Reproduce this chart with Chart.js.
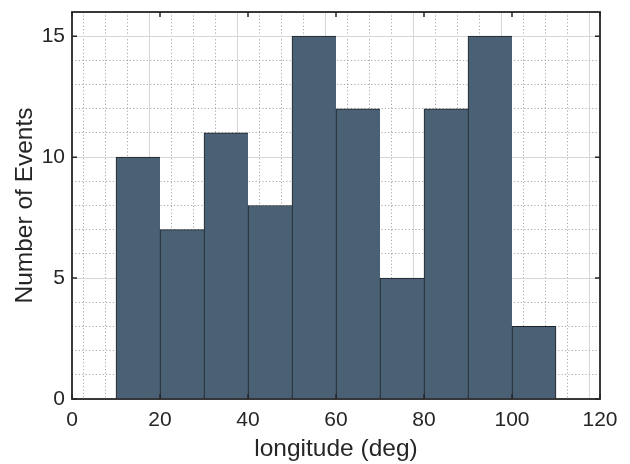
<!DOCTYPE html>
<html>
<head>
<meta charset="utf-8">
<script src="https://cdn.jsdelivr.net/npm/chart.js@4/dist/chart.umd.min.js"></script>
<style>
  html, body { margin: 0; padding: 0; background: #ffffff; }
  #wrap { width: 630px; height: 464px; position: relative; }
</style>
</head>
<body>
<div id="wrap"><canvas id="c" width="630" height="464"></canvas></div>
<script>
// Histogram of event longitudes, 10-degree bins
const binEdges = [10, 20, 30, 40, 50, 60, 70, 80, 90, 100, 110];
const binCounts = [10, 7, 11, 8, 15, 12, 5, 12, 15, 3];
const xTickLabels = [0, 20, 40, 60, 80, 100, 120];
const yTickLabels = [0, 5, 10, 15];

const xTitle = 'longitude (deg)';
const yTitle = 'Number of Events';

const barFill = 'rgb(74, 96, 116)';
const barEdge = 'rgb(30, 34, 38)';
const axisColor = 'rgb(38, 38, 38)';
const majorGrid = 'rgba(215, 215, 215, 1)';
const minorGrid = 'rgba(160, 160, 160, 0.9)';
const fontFamily = '"Liberation Sans", Arial, Helvetica, sans-serif';

// bar centres from the bin edges
const bars = binCounts.map((v, i) => ({ x: (binEdges[i] + binEdges[i + 1]) / 2, y: v }));

const isMajor = (c, list) => !c || !c.tick || list.indexOf(c.tick.value) !== -1;

// closed box with inward major tick marks
const boxPlugin = {
  id: 'box',
  afterDraw(chart) {
    const { ctx, chartArea: a, scales } = chart;
    ctx.save();
    ctx.strokeStyle = axisColor;
    ctx.lineWidth = 1.8;
    ctx.strokeRect(a.left, a.top, a.right - a.left, a.bottom - a.top);
    const len = 5;
    ctx.lineWidth = 1.5;
    ctx.beginPath();
    xTickLabels.forEach(v => {
      const px = scales.x.getPixelForValue(v);
      ctx.moveTo(px, a.bottom); ctx.lineTo(px, a.bottom - len);
      ctx.moveTo(px, a.top); ctx.lineTo(px, a.top + len);
    });
    yTickLabels.forEach(v => {
      const py = scales.y.getPixelForValue(v);
      ctx.moveTo(a.left, py); ctx.lineTo(a.left + len, py);
      ctx.moveTo(a.right, py); ctx.lineTo(a.right - len, py);
    });
    ctx.stroke();
    ctx.restore();
  }
};

new Chart(document.getElementById('c'), {
  type: 'bar',
  data: {
    datasets: [{
      data: bars,
      xAxisID: 'xb',
      backgroundColor: barFill,
      borderColor: barEdge,
      borderWidth: (c) => ({ top: 1, left: 1, right: c.dataIndex === binCounts.length - 1 ? 1 : 0, bottom: 0 }),
      borderSkipped: false,
      barPercentage: 1,
      categoryPercentage: 1
    }]
  },
  options: {
    responsive: false,
    animation: false,
    devicePixelRatio: 1,
    layout: { padding: { top: 12, right: 30, left: 0, bottom: 0 } },
    plugins: { legend: { display: false }, tooltip: { enabled: false } },
    scales: {
      // bin axis: 10-unit ticks so each bar spans its whole bin
      xb: {
        type: 'linear',
        position: 'bottom',
        min: 0, max: 120,
        offset: false,
        afterFit(s) { s.height = 0; s.paddingLeft = 0; s.paddingRight = 0; },
        ticks: { stepSize: 10, display: false },
        grid: { display: false },
        border: { display: false }
      },
      // visible axis with major/minor grid
      x: {
        type: 'linear',
        position: 'bottom',
        min: 0, max: 120,
        offset: false,
        z: 1,
        afterFit(s) { s.height = 65; s.paddingLeft = 0; s.paddingRight = 0; },
        ticks: {
          stepSize: 5,
          autoSkip: false,
          maxRotation: 0,
          padding: 9,
          color: axisColor,
          font: { family: fontFamily, size: 21 },
          callback: (v) => xTickLabels.indexOf(v) !== -1 ? String(v) : ''
        },
        grid: {
          drawTicks: false,
          lineWidth: 1,
          color: (c) => isMajor(c, xTickLabels) ? majorGrid : minorGrid
        },
        border: {
          display: false,
          dash: (c) => isMajor(c, xTickLabels) ? [] : [1.2, 2.2]
        },
        title: {
          display: true,
          text: xTitle,
          color: axisColor,
          font: { family: fontFamily, size: 24.5 },
          padding: { top: 0, bottom: 0 }
        }
      },
      y: {
        min: 0, max: 16,
        z: 1,
        afterFit(s) { s.width = 72; s.paddingTop = 0; s.paddingBottom = 0; },
        ticks: {
          stepSize: 1,
          autoSkip: false,
          padding: 7,
          color: axisColor,
          font: { family: fontFamily, size: 21 },
          callback: (v) => yTickLabels.indexOf(v) !== -1 ? String(v) : ''
        },
        grid: {
          drawTicks: false,
          lineWidth: 1,
          color: (c) => isMajor(c, yTickLabels) ? majorGrid : minorGrid
        },
        border: {
          display: false,
          dash: (c) => isMajor(c, yTickLabels) ? [] : [1.2, 2.2]
        },
        title: {
          display: true,
          text: yTitle,
          color: axisColor,
          font: { family: fontFamily, size: 24.5 },
          padding: { top: 11, bottom: 0 }
        }
      }
    }
  },
  plugins: [boxPlugin]
});
</script>
</body>
</html>
